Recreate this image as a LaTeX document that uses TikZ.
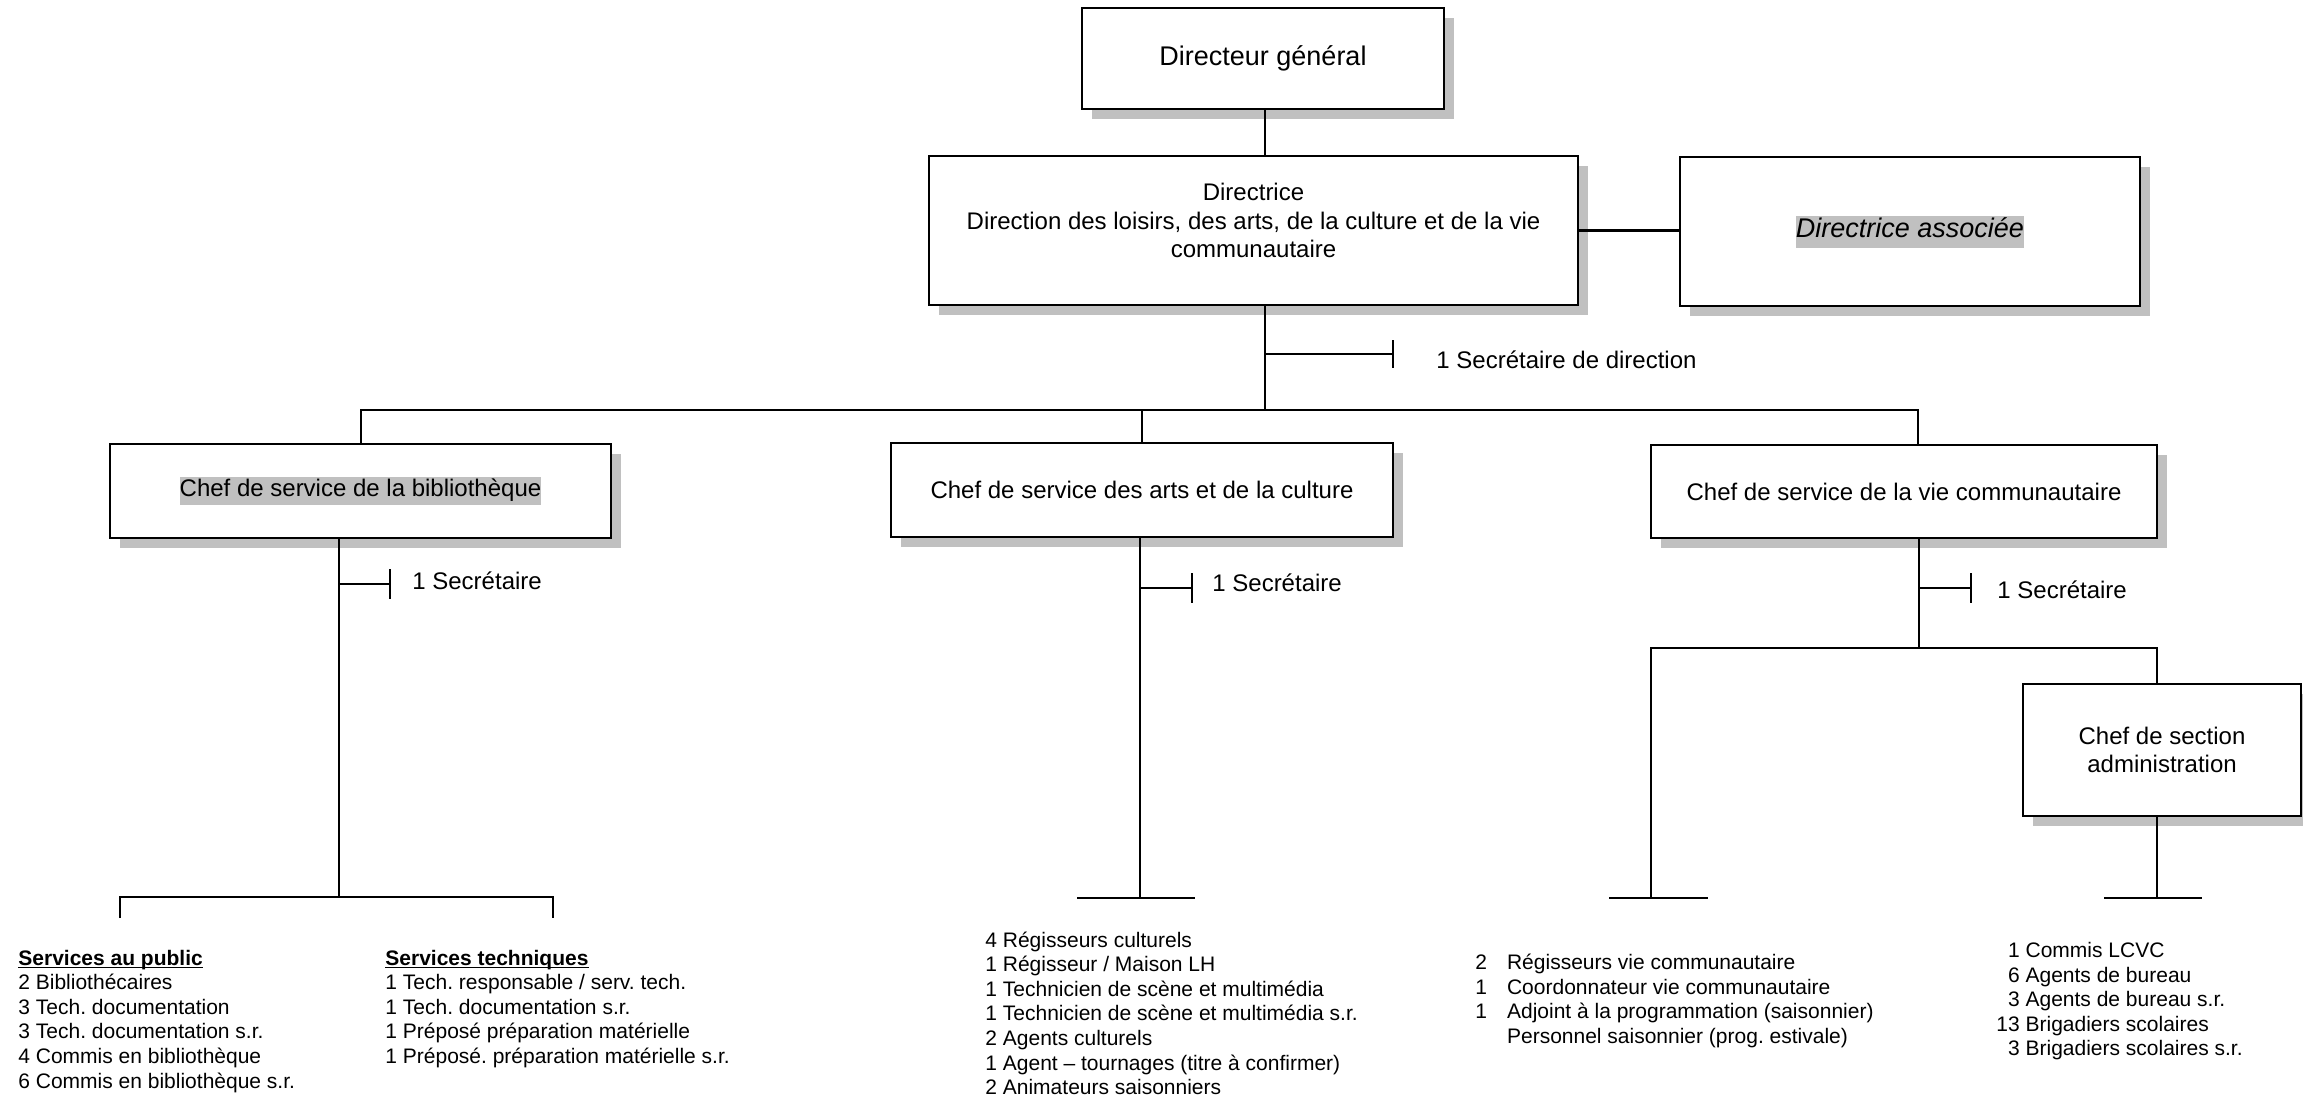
\documentclass[tikz,border=0pt]{standalone}
\usepackage{fontspec}
\setmainfont{Liberation Sans}
\usepackage{tikz}
\usetikzlibrary{shadows}
\definecolor{shade}{RGB}{192,192,192}
\frenchspacing
\newcommand{\hili}[1]{{\setlength{\fboxsep}{0pt}\colorbox{shade}{\strut #1}}}
\newcommand{\headline}[1]{\setbox0\hbox{\textbf{#1}}\rlap{\rule[-1.6pt]{\wd0}{0.7pt}}\box0}

\begin{document}
\begin{tikzpicture}[x=0.5pt, y=-0.5pt,
  box/.style={draw, line width=1.3pt, fill=white, align=center, inner sep=0pt,
    drop shadow={shadow xshift=5pt, shadow yshift=-5pt, fill=shade, opacity=1},
    font=\fontsize{12}{14.3}\selectfont},
  conn/.style={line width=1pt},
  bar/.style={line width=1.3pt},
  lbl/.style={anchor=base west, inner sep=0pt, font=\fontsize{12}{14.3}\selectfont},
  list/.style={anchor=base west, inner sep=0pt, font=\fontsize{10.5}{12.3}\selectfont}]

  \useasboundingbox (0,0) rectangle (2303,1098);

  \node[box, minimum width=181pt, minimum height=50.5pt, font=\fontsize{13.5}{16}\selectfont] (dg) at (1263,58.5) {Directeur général};
  \node[box, minimum width=324.5pt, minimum height=74.5pt] (dir) at (1253.5,230.5) {\raisebox{3.5pt}[\height][\depth]{\begin{tabular}{@{}c@{}}Directrice\\Direction des loisirs, des arts, de la culture et de la vie\\communautaire\end{tabular}}};
  \node[box, minimum width=230pt, minimum height=74.5pt, font=\fontsize{13.5}{16}\selectfont\itshape] (assoc) at (1910,231.5) {\hili{Directrice associée}};
  \node[box, minimum width=250.5pt, minimum height=47pt] (biblio) at (360.5,491) {\hili{Chef de service de la bibliothèque}};
  \node[box, minimum width=251pt, minimum height=47pt] (arts) at (1142,490) {Chef de service des arts et de la culture};
  \node[box, minimum width=253pt, minimum height=46.5pt] (vie) at (1904,491.5) {Chef de service de la vie communautaire};
  \node[box, minimum width=139pt, minimum height=66pt] (admin) at (2162,750) {Chef de section\\administration};

  \coordinate (trunk) at (1265,410);
  \coordinate (dgsec) at (1393,354);
  \coordinate (viedrop) at (1918,410);
  \draw[conn] (dg.south -| trunk) -- (dir.north -| trunk);
  \draw[conn] (dir.south -| trunk) -- (trunk);
  \draw[line width=1.6pt] (dir.east) -- (dir.east -| assoc.west);
  \draw[conn] (trunk |- dgsec) -- (dgsec) ++(0,-14) -- ++(0,28);
  \node[lbl] (dgseclbl) at (1436,368) {1 Secrétaire de direction};
  \draw[conn] (biblio.north) |- (viedrop) -- (viedrop |- vie.north);
  \draw[conn] (arts.north) -- (arts.north |- trunk);

  \coordinate (bibliobus) at (339,897);
  \coordinate (bibliosec) at (390,584);
  \coordinate (publtop) at (120,918);
  \coordinate (techtop) at (553,918);
  \draw[conn] (bibliobus |- biblio.south) -- (bibliobus);
  \draw[conn] (bibliobus |- bibliosec) -- (bibliosec) ++(0,-15) -- ++(0,30);
  \node[lbl] (bibliolbl) at (412,589) {1 Secrétaire};
  \draw[bar] (publtop) |- (bibliobus) -| (techtop);

  \coordinate (artsbus) at (1140,898);
  \coordinate (artssec) at (1192,588);
  \draw[conn] (artsbus |- arts.south) -- (artsbus);
  \draw[conn] (artsbus |- artssec) -- (artssec) ++(0,-15) -- ++(0,30);
  \node[lbl] (artslbl) at (1212,591) {1 Secrétaire};
  \draw[bar] (artsbus) ++(-63,0) -- ++(118,0);

  \coordinate (viebus) at (1919,648);
  \coordinate (viesec) at (1971,588);
  \coordinate (vieleft) at (1651,898);
  \coordinate (admindrop) at (2157,648);
  \coordinate (adminbus) at (2157,898);
  \draw[conn] (viebus |- vie.south) -- (viebus);
  \draw[conn] (viebus |- viesec) -- (viesec) ++(0,-15) -- ++(0,30);
  \node[lbl] (vielbl) at (1997,598) {1 Secrétaire};
  \draw[conn] (vieleft) |- (admindrop) -- (admindrop |- admin.north);
  \draw[conn] (adminbus |- admin.south) -- (adminbus);
  \draw[bar] (vieleft) ++(-42,0) -- ++(99,0);
  \draw[bar] (adminbus) ++(-53,0) -- ++(98,0);

  \node[list] (publ) at (18,965) {\begin{tabular}[t]{@{}l@{}}
    \headline{Services au public}\\
    2 Bibliothécaires\\
    3 Tech. documentation\\
    3 Tech. documentation s.r.\\
    4 Commis en bibliothèque\\
    6 Commis en bibliothèque s.r.
  \end{tabular}};
  \node[list] (tech) at (385,965) {\begin{tabular}[t]{@{}l@{}}
    \headline{Services techniques}\\
    1 Tech. responsable / serv. tech.\\
    1 Tech. documentation s.r.\\
    1 Préposé préparation matérielle\\
    1 Préposé. préparation matérielle s.r.
  \end{tabular}};
  \node[list] (artslist) at (985,947) {\begin{tabular}[t]{@{}l@{}}
    4 Régisseurs culturels\\
    1 Régisseur / Maison LH\\
    1 Technicien de scène et multimédia\\
    1 Technicien de scène et multimédia s.r.\\
    2 Agents culturels\\
    1 Agent – tournages (titre à confirmer)\\
    2 Animateurs saisonniers
  \end{tabular}};
  \node[list] (vielist) at (1475,969.5) {\begin{tabular}[t]{@{}l@{\hspace{10pt}}l@{}}
    2 & Régisseurs vie communautaire\\
    1 & Coordonnateur vie communautaire\\
    1 & Adjoint à la programmation (saisonnier)\\
      & Personnel saisonnier (prog. estivale)
  \end{tabular}};
  \node[list] (adminlist) at (1996,957.5) {\begin{tabular}[t]{@{}r@{\ }l@{}}
    1 & Commis LCVC\\
    6 & Agents de bureau\\
    3 & Agents de bureau s.r.\\
    13 & Brigadiers scolaires\\
    3 & Brigadiers scolaires s.r.
  \end{tabular}};
\end{tikzpicture}
\end{document}
